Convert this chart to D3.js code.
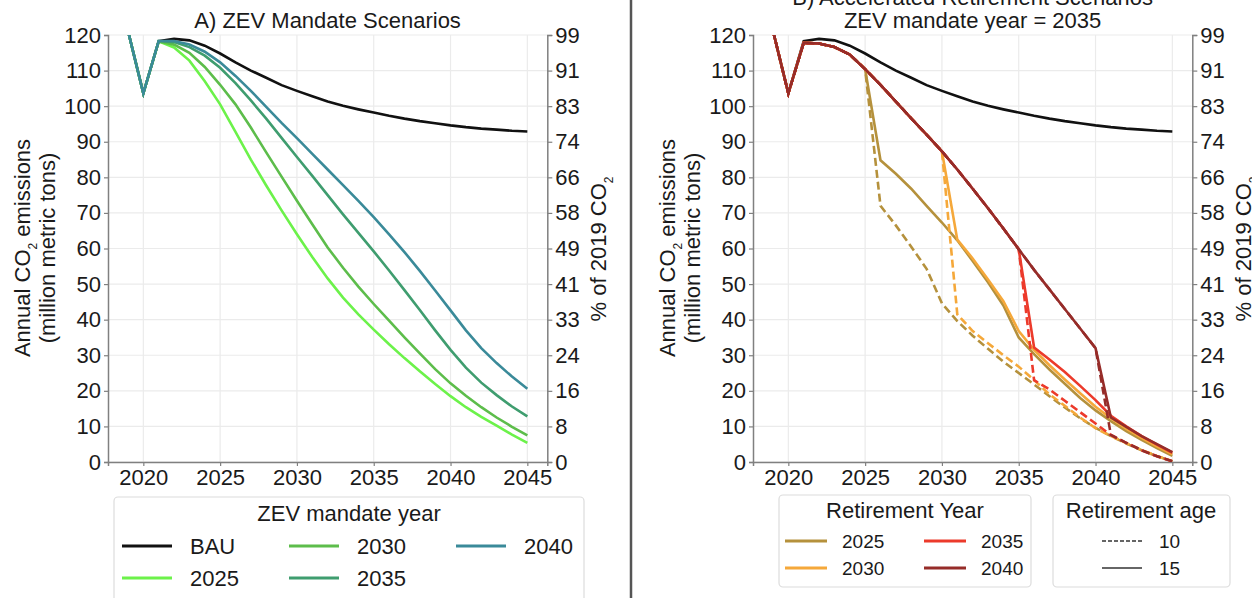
<!DOCTYPE html>
<html>
<head>
<meta charset="utf-8">
<script src="https://cdn.jsdelivr.net/npm/d3@7"></script>
<style>
body { margin: 0; background: #fff; }
text { font-family: "Liberation Sans", Arial, sans-serif; fill: #1a1a1a; }
</style>
</head>
<body>
<div id="chart"></div>
<script>
// ---- data ----
const years = [2019,2020,2021,2022,2023,2024,2025,2026,2027,2028,2029,2030,2031,2032,2033,2034,2035,2036,2037,2038,2039,2040,2041,2042,2043,2044,2045];
const xTicks = [2020,2025,2030,2035,2040,2045];
const yTicks = [0,10,20,30,40,50,60,70,80,90,100,110,120];
const pctLabels = ["0","8","16","24","33","41","49","58","66","74","83","91","99"];

const bau = [121.2,103.6,118.3,118.9,118.5,117,114.8,112.3,110,108,105.9,104.3,102.8,101.3,100.1,99.1,98.2,97.3,96.5,95.8,95.2,94.6,94.1,93.7,93.4,93.1,92.9];

// panel A: ZEV mandate year
const zevNames = ["2025","2030","2035","2040"];
const zevColors = ["#6cf24a","#5dbd4b","#3f9d6f","#3a8a99"];
const zev2025 = [121.2,103.6,118.2,116.5,112.8,107,100.5,92.8,85,77.7,70.7,64,57.6,51.6,46.2,41.5,37.2,33.1,29.2,25.5,21.9,18.5,15.4,12.7,10.2,7.7,5.4];
const zev2030 = [121.2,103.6,118.2,117.3,115,111,106,100.5,94,87,80.2,73.4,66.8,60.3,54.6,49.3,44.4,39.7,35,30.5,26.1,22.1,18.6,15.4,12.5,9.9,7.5];
const zev2035 = [121.2,103.6,118.3,118,116.6,114.2,110.8,106.5,101.6,96.5,91.1,85.7,80.4,75,69.6,64.4,59.2,53.8,48.3,42.7,37,31.5,26.5,22.3,18.8,15.6,12.8];
const zev2040 = [121.2,103.6,118.3,118.3,117.3,115.3,112.3,108.5,104.3,99.8,95.3,91,86.6,82.2,77.8,73.4,68.8,64,59,53.7,48.2,42.6,37,32,27.8,24,20.6];

// panel B: ZEV mandate 2035, accelerated retirement
const base2035 = [121.2,103.6,117.8,117.6,116.6,114.5,110.4,106,101.3,96.6,92,87.3,82.2,76.8,71.3,65.6,59.8,54,48.5,43,37.5,32]; // 2019-2040
const retireYears = [2025,2030,2035,2040];
const retColors = ["#b5913c","#f5a83a","#ec3a2b","#962c29"];
// values from the retirement year to 2045
const ret2025age15 = [110.4,84.8,81,76.8,72,67.3,62.3,56.5,50.5,44,35,30.3,26,22,18,14.5,11.5,8.7,6.2,3.9,1.7];
const ret2025age10 = [110.4,72,66.5,60.5,54.3,44.6,39.6,35.5,31.8,28.2,25,21.8,18.5,15.3,12.3,9.6,7.3,5.2,3.3,1.6,0.2];
const ret2030age15 = [87.3,62.5,57.2,51.3,45.2,36.8,31.5,27.2,23.2,19.3,15.5,12.3,9.4,6.8,4.4,2.2];
const ret2030age10 = [87.3,41.5,36.8,33.4,30,26.8,23,19,15.8,12.5,9.5,7.3,5.3,3.4,1.7,0.2];
const ret2035age15 = [59.8,32.2,28.8,25.3,21.4,17.4,13,10,7.3,4.9,2.6];
const ret2035age10 = [59.8,23,20.4,17.2,14,10.8,7.6,5.4,3.3,1.6,0.2];
const ret2040age15 = [32,12.5,9.9,7.3,5,2.8];
const ret2040age10 = [32,7.6,5.4,3.3,1.6,0.2];

const age15 = [ret2025age15, ret2030age15, ret2035age15, ret2040age15];
const age10 = [ret2025age10, ret2030age10, ret2035age10, ret2040age10];

// ---- drawing ----
const W = 1252, H = 598;
const svg = d3.select("#chart").append("svg").attr("width", W).attr("height", H);
svg.append("rect").attr("width", W).attr("height", H).attr("fill", "#fff");

const y_scale = d3.scaleLinear().domain([0, 120]).range([462, 35]);

function pairs(vals) {
    return vals.map((v, i) => [years[i], v]);
}

function drawPanel(left, right, id) {
    const x_scale = d3.scaleLinear().domain([2017.7, 2046.3]).range([left, right]);
    const g = svg.append("g");

    svg.append("clipPath").attr("id", id)
        .append("rect").attr("x", left).attr("y", 35).attr("width", right - left).attr("height", 427);

    // grid
    g.selectAll(".gx").data(xTicks).join("line")
        .attr("x1", d => x_scale(d)).attr("x2", d => x_scale(d))
        .attr("y1", 35).attr("y2", 462)
        .style("stroke", "#ebebeb").style("stroke-width", 1.2);
    g.selectAll(".gy").data(yTicks).join("line")
        .attr("x1", left).attr("x2", right)
        .attr("y1", d => y_scale(d)).attr("y2", d => y_scale(d))
        .style("stroke", "#ebebeb").style("stroke-width", 1.2);

    // axes
    const yl = g.append("g").attr("transform", `translate(${left},0)`)
        .call(d3.axisLeft(y_scale).tickValues(yTicks).tickSize(4).tickPadding(3));
    const yr = g.append("g").attr("transform", `translate(${right},0)`)
        .call(d3.axisRight(y_scale).tickValues(yTicks).tickSize(5).tickPadding(3)
            .tickFormat((d, i) => pctLabels[i]));
    const xb = g.append("g").attr("transform", "translate(0,462)")
        .call(d3.axisBottom(x_scale).tickValues(xTicks).tickSize(4).tickPadding(3).tickFormat(d3.format("d")));
    [yl, yr, xb].forEach(a => {
        a.selectAll("text").style("font-size", "22px").style("font-family", "'Liberation Sans', Arial, sans-serif").attr("fill", "#1a1a1a");
        a.select(".domain").style("stroke", "#808080").style("stroke-width", 1.5);
        a.selectAll(".tick line").style("stroke", "#808080").style("stroke-width", 1.2);
    });

    const lines = g.append("g").attr("clip-path", `url(#${id})`);
    const line = d3.line().x(d => x_scale(d[0])).y(d => y_scale(d[1]));
    return { x_scale, lines, line };
}

function yLabels(xOff) {
    const t1 = svg.append("text").attr("transform", `translate(${xOff + 30},248) rotate(-90)`)
        .attr("text-anchor", "middle").style("font-size", "22px");
    t1.append("tspan").text("Annual CO");
    t1.append("tspan").text("2").attr("baseline-shift", "sub").style("font-size", "12px");
    t1.append("tspan").text(" emissions");
    svg.append("text").attr("transform", `translate(${xOff + 55},248) rotate(-90)`)
        .attr("text-anchor", "middle").style("font-size", "22px").text("(million metric tons)");
    const t2 = svg.append("text").attr("transform", `translate(${xOff + 606},249) rotate(-90)`)
        .attr("text-anchor", "middle").style("font-size", "22px");
    t2.append("tspan").text("% of 2019 CO");
    t2.append("tspan").text("2").attr("baseline-shift", "sub").style("font-size", "12px");
}

// Panel A
const A = drawPanel(108, 547.3, "clipA");
A.lines.append("path").datum(pairs(bau)).attr("d", A.line)
    .style("fill", "none").style("stroke", "#111").style("stroke-width", 2.6);
[zev2025, zev2030, zev2035, zev2040].forEach((s, i) => {
    A.lines.append("path").datum(pairs(s)).attr("d", A.line)
        .style("fill", "none").style("stroke", zevColors[i]).style("stroke-width", 2.6);
});
svg.append("text").attr("x", 327.6).attr("y", 28).attr("text-anchor", "middle")
    .style("font-size", "22px").text("A) ZEV Mandate Scenarios");
yLabels(0);

// Panel B
const B = drawPanel(753, 1192.3, "clipB");
B.lines.append("path").datum(pairs(bau)).attr("d", B.line)
    .style("fill", "none").style("stroke", "#111").style("stroke-width", 2.6);
retireYears.forEach((r, i) => {
    const prefix = base2035.slice(0, r - years[0]);
    B.lines.append("path").datum(pairs(prefix.concat(age10[i]))).attr("d", B.line)
        .style("fill", "none").style("stroke", retColors[i]).style("stroke-width", 2.6)
        .style("stroke-dasharray", "8,4");
    B.lines.append("path").datum(pairs(prefix.concat(age15[i]))).attr("d", B.line)
        .style("fill", "none").style("stroke", retColors[i]).style("stroke-width", 2.6);
});
svg.append("text").attr("x", 972.6).attr("y", 5).attr("text-anchor", "middle")
    .style("font-size", "22px").text("B) Accelerated Retirement Scenarios");
svg.append("text").attr("x", 972.6).attr("y", 28).attr("text-anchor", "middle")
    .style("font-size", "22px").text("ZEV mandate year = 2035");
yLabels(645);

// divider
svg.append("line").attr("x1", 631).attr("x2", 631).attr("y1", 0).attr("y2", H)
    .style("stroke", "#555").style("stroke-width", 2.5);

// ---- legends ----
function legendBox(x, y, w, h) {
    svg.append("rect").attr("x", x).attr("y", y).attr("width", w).attr("height", h).attr("rx", 4)
        .style("fill", "#fff").style("stroke", "#dcdcdc").style("stroke-width", 1.2);
}

// legend A
legendBox(114, 497, 470, 120);
svg.append("text").attr("x", 349).attr("y", 521).attr("text-anchor", "middle")
    .style("font-size", "22px").text("ZEV mandate year");
const legA = [
    { name: "BAU", color: "#111", col: 0, row: 0 },
    { name: zevNames[0], color: zevColors[0], col: 0, row: 1 },
    { name: zevNames[1], color: zevColors[1], col: 1, row: 0 },
    { name: zevNames[2], color: zevColors[2], col: 1, row: 1 },
    { name: zevNames[3], color: zevColors[3], col: 2, row: 0 }
];
const colA = [122, 289, 456];
legA.forEach(d => {
    const lx = colA[d.col], ly = 546 + d.row * 32;
    svg.append("line").attr("x1", lx).attr("x2", lx + 50).attr("y1", ly).attr("y2", ly)
        .style("stroke", d.color).style("stroke-width", 3);
    svg.append("text").attr("x", lx + 68).attr("y", ly + 8).style("font-size", "22px").text(d.name);
});

// legend B1: retirement year
legendBox(779, 495, 252, 92);
svg.append("text").attr("x", 905).attr("y", 518).attr("text-anchor", "middle")
    .style("font-size", "22px").text("Retirement Year");
const colB = [785, 924];
retireYears.forEach((r, i) => {
    const lx = colB[Math.floor(i / 2)], ly = 541 + (i % 2) * 27;
    svg.append("line").attr("x1", lx).attr("x2", lx + 42).attr("y1", ly).attr("y2", ly)
        .style("stroke", retColors[i]).style("stroke-width", 3);
    svg.append("text").attr("x", lx + 57).attr("y", ly + 7).style("font-size", "19px").text(r);
});

// legend B2: retirement age
legendBox(1053, 495, 177, 92);
svg.append("text").attr("x", 1141).attr("y", 518).attr("text-anchor", "middle")
    .style("font-size", "22px").text("Retirement age");
const ages = ["10", "15"];
ages.forEach((a, i) => {
    const ly = 541 + i * 27;
    svg.append("line").attr("x1", 1102).attr("x2", 1142).attr("y1", ly).attr("y2", ly)
        .style("stroke", "#333").style("stroke-width", 1.5)
        .style("stroke-dasharray", i === 0 ? "4,2" : null);
    svg.append("text").attr("x", 1159).attr("y", ly + 7).style("font-size", "19px").text(a);
});
</script>
</body>
</html>
